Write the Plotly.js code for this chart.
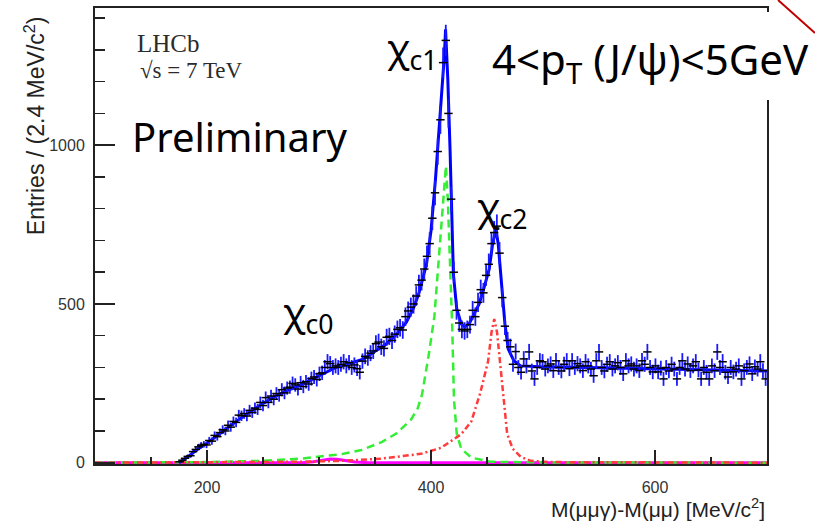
<!DOCTYPE html>
<html>
<head>
<meta charset="utf-8">
<script src="https://cdn.plot.ly/plotly-3.0.1.min.js"></script>
<style>html,body{margin:0;padding:0;background:#fff;}#chart{width:815px;height:521px;}</style>
</head>
<body>
<div id="chart"></div>
<script>
// Histogram: bin centres start / width (MeV/c^2) and counts per 2.4 MeV bin
const binStart = 175.6;
const binWidth = 2.4;
const counts = [
  3, 8, 14, 20, 22, 35, 42, 50, 55, 58,
  56, 70, 68, 86, 82, 95, 104, 100, 118, 112,
  130, 127, 150, 148, 155, 147, 165, 158, 172, 168,
  190, 180, 205, 190, 210, 200, 218, 212, 230, 220,
  235, 238, 250, 245, 232, 252, 240, 255, 248, 265,
  270, 262, 280, 283, 300, 318, 312, 300, 305, 300,
  310, 318, 305, 315, 300, 308, 296, 285, 320, 335,
  330, 345, 352, 375, 380, 365, 360, 395, 398, 385,
  405, 420, 425, 418, 460, 478, 490, 500, 525, 560,
  575, 610, 650, 690, 770, 850, 980, 1080, 1260, 1330,
  1100, 830, 600, 480, 440, 420, 415, 420, 435, 480,
  460, 505, 545, 535, 590, 625, 690, 725, 745, 660,
  520, 430, 385, 365, 310, 350, 300, 285, 327, 305,
  349, 289, 264, 300, 321, 318, 295, 305, 311, 290,
  321, 300, 289, 310, 321, 296, 321, 300, 312, 305,
  290, 318, 305, 295, 274, 321, 349, 300, 289, 310,
  318, 295, 305, 315, 300, 280, 321, 305, 311, 295,
  305, 290, 321, 310, 349, 300, 286, 305, 286, 298,
  264, 300, 289, 310, 295, 264, 300, 321, 295, 311,
  290, 305, 318, 292, 264, 300, 285, 264, 305, 290,
  349, 300, 318, 285, 270, 300, 286, 295, 305, 264,
  290, 300, 311, 280, 302, 295, 318, 290, 264
];

// Total fit (blue)
const fitX = [175,182,191,198,209,228,244,258,271,284,302,316,329,340,349,360,369,378,384,389,396,400,404,408,412,413,415,417,419,420,423,427,430,434,438,443,447,452,455,458,460,463,466,469,474,480,498,551,596,640,700];
const fitY = [0,16,41,57,85,135,173,204,226,245,277,302,314,327,349,374,403,443,484,531,626,730,893,1082,1286,1365,1208,987,752,594,484,437,428,437,465,500,547,610,689,736,689,563,437,358,321,305,302,299,296,292,289];

// chi_c1 component (green dashed)
const c1X = [100,200,249,284,320,338,356,369,382,388,392,398,403,407,411,413.3,415,417,419,420.5,423,427,436,453,500,700];
const c1Y = [0,2,6,13,27,40,65,92,135,170,215,340,460,640,830,934,830,641,421,201,91,44,16,3,1,0];

// chi_c2 component (red dash-dot)
const c2X = [100,284,320,356,391,409,427,436,444,451,454,456.5,459,462,465,468,473,480,489,507,700];
const c2Y = [0,3,6,13,28,47,90,130,220,320,410,453,410,296,186,91,44,19,6,2,0];

// chi_c0 component (magenta)
const c0X = [100,285,295,303,310,316,323,332,345,700];
const c0Y = [0,0,3,8,12,11,6,2,0,0];

const dataX = counts.map((_, i) => binStart + i * binWidth);
const errY = counts.map(v => 1.35 * Math.sqrt(v));

const traces = [
  {x: c0X, y: c0Y, mode: 'lines', line: {color: '#ff00ff', width: 3}, hoverinfo: 'skip'},
  {x: c1X, y: c1Y, mode: 'lines', line: {color: '#33ee33', width: 2.5, dash: '8px,5px'}, hoverinfo: 'skip'},
  {x: c2X, y: c2Y, mode: 'lines', line: {color: '#ff3b3b', width: 2.5, dash: '6px,3px,2px,3px'}, hoverinfo: 'skip'},
  {x: fitX, y: fitY, mode: 'lines', line: {color: '#0000ff', width: 3}, hoverinfo: 'skip'},
  {x: dataX, y: counts, mode: 'markers', marker: {symbol: 'line-ew', size: 6, color: '#000', line: {color: '#000', width: 1.5}},
   error_y: {type: 'data', array: errY, visible: true, color: '#1a1aff', thickness: 1.8, width: 0}, hoverinfo: 'skip'}
];

const axisFont = {family: 'Liberation Sans, Arial, sans-serif', size: 16, color: '#333'};
const layout = {
  width: 815, height: 521,
  margin: {l: 95, r: 48, t: 8, b: 57},
  paper_bgcolor: '#fff', plot_bgcolor: '#fff',
  showlegend: false,
  xaxis: {
    range: [100, 700], showgrid: false, zeroline: false,
    showline: true, mirror: true, linecolor: '#222', linewidth: 2,
    ticks: 'inside', ticklen: 14, tickwidth: 2, tickcolor: '#222',
    tickvals: [200, 400, 600], ticktext: ['200', '400', '600'],
    minor: {tickvals: [150, 250, 300, 350, 450, 500, 550, 650], ticks: 'inside', ticklen: 7, tickwidth: 1.5, tickcolor: '#222'},
    tickfont: axisFont, ticklabelstandoff: 8
  },
  yaxis: {
    range: [-4, 1432], showgrid: false, zeroline: false,
    showline: true, mirror: true, linecolor: '#222', linewidth: 2,
    ticks: 'inside', ticklen: 20, tickwidth: 2, tickcolor: '#222',
    tickvals: [0, 500, 1000], ticktext: ['0', '500', '1000'],
    minor: {tickvals: [100,200,300,400,600,700,800,900,1100,1200,1300,1400], ticks: 'inside', ticklen: 10, tickwidth: 1.5, tickcolor: '#222'},
    tickfont: axisFont, ticklabelstandoff: 5
  },
  shapes: [
    {type: 'rect', xref: 'paper', yref: 'paper', x0: 0.573, x1: 1.03, y0: 0.798, y1: 0.991, fillcolor: '#fff', line: {width: 0}, layer: 'above'},
    {type: 'line', xref: 'paper', yref: 'paper', x0: 1.0164, y0: 1.0175, x1: 1.0714, y1: 0.945, line: {color: '#c00000', width: 2}, layer: 'above'}
  ],
  annotations: [
    {text: 'LHCb', xref: 'paper', yref: 'paper', x: 0.0595, y: 0.923, xanchor: 'left', yanchor: 'middle', showarrow: false,
     font: {family: 'Liberation Serif, Times New Roman, serif', size: 25, color: '#2b2b2b'}},
    {text: '√s = 7 TeV', xref: 'paper', yref: 'paper', x: 0.064, y: 0.864, xanchor: 'left', yanchor: 'middle', showarrow: false,
     font: {family: 'Liberation Serif, Times New Roman, serif', size: 23, color: '#2b2b2b'}},
    {text: 'Preliminary', xref: 'paper', yref: 'paper', x: 0.052, y: 0.719, xanchor: 'left', yanchor: 'middle', showarrow: false,
     font: {family: 'Noto Sans, Open Sans, sans-serif', size: 40, color: '#000'}},
    {text: 'χ<sub>c1</sub>', xref: 'paper', yref: 'paper', x: 0.473, y: 0.91, xanchor: 'center', yanchor: 'middle', showarrow: false,
     font: {family: 'Noto Sans, Open Sans, sans-serif', size: 38, color: '#000'}},
    {text: 'χ<sub>c2</sub>', xref: 'paper', yref: 'paper', x: 0.607, y: 0.561, xanchor: 'center', yanchor: 'middle', showarrow: false,
     font: {family: 'Noto Sans, Open Sans, sans-serif', size: 38, color: '#000'}},
    {text: 'χ<sub>c0</sub>', xref: 'paper', yref: 'paper', x: 0.317, y: 0.331, xanchor: 'center', yanchor: 'middle', showarrow: false,
     font: {family: 'Noto Sans, Open Sans, sans-serif', size: 38, color: '#000'}},
    {text: '4&lt;p<sub>T</sub> (J/ψ)&lt;5GeV', xref: 'paper', yref: 'paper', x: 0.827, y: 0.882, xanchor: 'center', yanchor: 'middle', showarrow: false,
     font: {family: 'Noto Sans, Open Sans, sans-serif', size: 42, color: '#000'}},
    {text: 'Entries / (2.4 MeV/c<sup>2</sup>)', xref: 'paper', yref: 'paper', x: -0.0893, y: 0.743, xanchor: 'center', yanchor: 'middle', textangle: -90, showarrow: false,
     font: {family: 'Liberation Sans, Arial, sans-serif', size: 23, color: '#222'}},
    {text: 'M(μμγ)-M(μμ) [MeV/c<sup>2</sup>]', xref: 'paper', yref: 'paper', x: 1.0, y: -0.0975, xanchor: 'right', yanchor: 'middle', showarrow: false,
     font: {family: 'Liberation Sans, Arial, sans-serif', size: 21, color: '#222'}}
  ]
};

Plotly.newPlot('chart', traces, layout, {staticPlot: true, displayModeBar: false});
</script>
</body>
</html>
